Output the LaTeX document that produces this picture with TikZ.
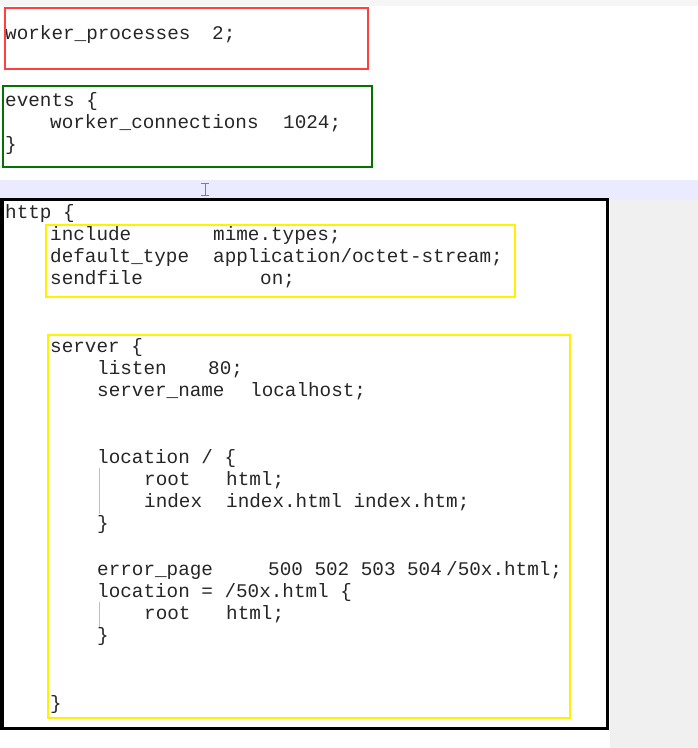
\documentclass[tikz,border=0pt]{standalone}
\usepackage{fontspec}
\setmonofont{Liberation Mono}
\begin{document}
\begin{tikzpicture}[x=1pt,y=-1pt,
  code/.style={anchor=base west,inner sep=0pt,yshift=-6pt,font=\ttfamily\fontsize{19.3}{22}\selectfont,text=black!85},
  box/.style={line width=2.2pt}]
\useasboundingbox (0,0) rectangle (698,748);
\fill[white] (0,0) rectangle (698,748);
\fill[black!6] (610,200) rectangle (698,748);
\fill[black!4] (0,0) rectangle (698,6);
\fill[blue!8] (0,180) rectangle (698,200);
\node[code] (c1) at (5,33) {worker\_processes};
\node[code] (c2) at (212,33) {2;};
\node[code] (c3) at (5,100) {events \{};
\node[code] (c4) at (50,122) {worker\_connections};
\node[code] (c5) at (283,122) {1024;};
\node[code] (c6) at (5,144) {\}};
\node[code] (c7) at (5,212) {http \{};
\node[code] (c8) at (50,234) {include};
\node[code] (c9) at (213,234) {mime.types;};
\node[code] (c10) at (50,256) {default\_type};
\node[code] (c11) at (213,256) {application/octet-stream;};
\node[code] (c12) at (50,278) {sendfile};
\node[code] (c13) at (260,278) {on;};
\node[code] (c14) at (50,346) {server \{};
\node[code] (c15) at (97,368) {listen};
\node[code] (c16) at (208,368) {80;};
\node[code] (c17) at (97,390) {server\_name};
\node[code] (c18) at (250,390) {localhost;};
\node[code] (c19) at (97,457) {location / \{};
\node[code] (c20) at (144,479) {root};
\node[code] (c21) at (226,479) {html;};
\node[code] (c22) at (144,501) {index};
\node[code] (c23) at (226,501) {index.html index.htm;};
\node[code] (c24) at (97,523) {\}};
\node[code] (c25) at (97,569) {error\_page};
\node[code] (c26) at (268,569) {500 502 503 504};
\node[code] (c27) at (446,569) {/50x.html;};
\node[code] (c28) at (97,591) {location = /50x.html \{};
\node[code] (c29) at (144,613) {root};
\node[code] (c30) at (226,613) {html;};
\node[code] (c31) at (97,635) {\}};
\node[code] (c32) at (50,703) {\}};
\draw[black!25,line width=0.8pt] (99,468) -- (99,514) (99,602) -- (99,627);
\draw[black!50,line width=0.8pt] (205,183) -- (205,195) (201,183) -- (209,183) (201,195) -- (209,195);
\draw[box,red!75] (5,8) rectangle (368,69);
\draw[box,green!45!black] (3,86) rectangle (372,167);
\draw[line width=3pt,black] (2,199) rectangle (607,728);
\draw[box,yellow] (46,225) rectangle (515,297);
\draw[box,yellow] (48,335) rectangle (570,718);
\end{tikzpicture}
\end{document}
